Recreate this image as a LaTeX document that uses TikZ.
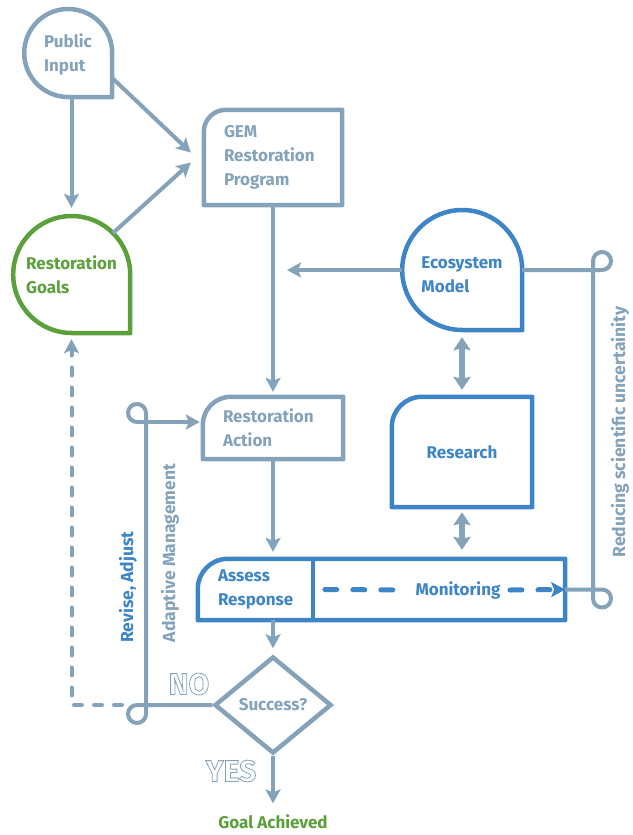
\documentclass[tikz,border=0pt]{standalone}
\usepackage{fontspec}
\setmainfont{Fira Sans}
\usepackage{tikz}
\usetikzlibrary{arrows.meta,calc,positioning,shapes.geometric}
\definecolor{steel}{HTML}{84A3BA}
\definecolor{ecoblue}{HTML}{3D85C6}
\definecolor{goalgreen}{HTML}{5BA03B}
% hollow letters for the NO / YES marks
\newcommand{\hollow}[1]{\special{pdf:literal direct 1 Tr 0.8 w}#1\special{pdf:literal direct 0 Tr}}

\begin{document}
\begin{tikzpicture}[x=1pt,y=1pt,>={Stealth[width=15pt,length=14pt,inset=3pt]},
  lbl/.style={font=\fontsize{17}{24}\selectfont\bfseries,align=left},
  drop/.style={circle,inner sep=0pt,lbl},
  card/.style={rectangle,inner sep=0pt,lbl},
  rim/.style={line width=4.5pt,line join=round},
  conn/.style={line width=4pt,steel},
  twohead/.style={line width=6pt,steel,{Stealth[width=17pt,length=13pt,inset=2pt]}-{Stealth[width=17pt,length=13pt,inset=2pt]}},
  side/.style={font=\fontsize{17.5}{20}\selectfont\bfseries,rotate=90},
  verdict/.style={font=\fontsize{30}{30}\selectfont\bfseries,steel}]
  \useasboundingbox (0,0) rectangle (632,-835);

  % shapes
  \node[drop,steel,minimum size=88pt] (pub) at (68,-53) {\rule{0pt}{17pt}Public\\Input};
  \node[drop,goalgreen,minimum size=117pt] (goals) at (71.5,-274.5) {Restoration\\Goals};
  \node[drop,ecoblue,minimum size=120pt] (eco) at (462,-270) {\rule{0pt}{22pt}Ecosystem\\Model};
  \node[card,steel,text width=98pt,inner xsep=20pt,minimum height=95pt] (gem) at (273,-157.5) {GEM\\Restoration\\Program};
  \node[card,steel,text width=100pt,inner xsep=20pt,minimum height=62pt] (action) at (273,-428) {Restoration\\Action};
  \node[card,ecoblue,align=center,minimum width=140pt,minimum height=110pt] (research) at (462,-452) {Research};
  \node[card,ecoblue,text width=80pt,inner xsep=20pt,minimum height=61pt] (assess) at (258,-589.5) {Assess\\Response};
  \node[card,minimum width=252pt,minimum height=61pt] (monitor) at (439,-589.5) {};
  \node[lbl,ecoblue] (montext) at (458,-590) {Monitoring};
  \node[diamond,draw=steel,line width=4.5pt,minimum width=117pt,minimum height=97pt,inner sep=0pt,lbl,text=steel] (success) at (273,-705) {Success?};
  \node[lbl,goalgreen] (done) at (273,-822) {Goal Achieved};

  \draw[rim,steel] (pub.east) arc[start angle=0,end angle=270,radius=44pt] -- (pub.south -| pub.east) -- cycle;
  \draw[rim,goalgreen] (goals.east) arc[start angle=0,end angle=270,radius=58.5pt] -- (goals.south -| goals.east) -- cycle;
  \draw[rim,ecoblue] (eco.east) arc[start angle=0,end angle=270,radius=60pt] -- (eco.south -| eco.east) -- cycle;
  \draw[rim,steel] (gem.south west) -- ([yshift=-22pt]gem.north west) arc[start angle=180,end angle=90,radius=22pt] -- (gem.north east) -- (gem.south east) -- cycle;
  \draw[rim,steel] (action.south west) -- ([yshift=-28pt]action.north west) arc[start angle=180,end angle=90,radius=28pt] -- (action.north east) -- (action.south east) -- cycle;
  \draw[rim,ecoblue] (research.south west) -- ([yshift=-30pt]research.north west) arc[start angle=180,end angle=90,radius=30pt] -- (research.north east) -- (research.south east) -- cycle;
  \draw[rim,ecoblue] (assess.south west) -- ([yshift=-30pt]assess.north west) arc[start angle=180,end angle=90,radius=30pt] -- (monitor.north east) -- (monitor.south east) -- cycle;
  \draw[rim,ecoblue] (monitor.north west) -- (monitor.south west);

  % loop corners
  \coordinate (ne) at (602,-261);
  \coordinate (se) at (602,-598.5);
  \coordinate (nw) at (137,-413);
  \coordinate (sw) at (137,-714);
  \coordinate (nwfoot) at (137,-422);

  % connectors
  \draw[conn,->,shorten >=8pt] (goals.north |- pub.south) -- (goals.north);
  \draw[conn,->] ([yshift=-25pt]pub.east) -- ([xshift=-13pt,yshift=5pt]gem.west);
  \draw[conn,->] (goals.45) -- ([xshift=-13pt,yshift=-5pt]gem.west);
  \draw[conn,->,shorten >=5pt] (gem.south) -- (action.north);
  \draw[conn,->,shorten >=14pt] (eco.west) -- (eco.west -| gem.south);
  \draw[conn] (eco.east) -- ($(ne)+(0,-9)$) arc[start angle=-90,end angle=180,radius=9pt]
    -- ($(se)+(-9,0)$) arc[start angle=180,end angle=450,radius=9pt] -- (monitor.east);
  \draw[twohead,shorten <=7pt,shorten >=7pt] (eco.south) -- (research.north);
  \draw[twohead,shorten <=5pt,shorten >=9pt] (research.south) -- (research.south |- monitor.north);
  \draw[conn,->,shorten >=7pt] (action.south) -- (action.south |- assess.north);
  \draw[conn,->,shorten >=6pt] (assess.south -| success.north) -- (success.north);
  \draw[conn,->,shorten >=8pt] (success.south) -- (done.north);
  \draw[conn] (success.west) -- ($(sw)+(0,9)$) arc[start angle=90,end angle=360,radius=9pt]
    -- ($(nw)+(9,0)$) arc[start angle=0,end angle=270,radius=9pt];
  \draw[conn,->,shorten >=3pt] (nwfoot) -- (nwfoot -| action.west);
  \draw[conn,line cap=round,dash pattern=on 8pt off 12pt,->,shorten >=6pt] ($(sw)+(-15,9)$) -- (goals.south |- success.west) -- (goals.south);
  \draw[line width=5pt,ecoblue,line cap=round,dash pattern=on 12pt off 16pt] ([xshift=12pt]monitor.west) -- ([xshift=-6pt]montext.west);
  \draw[line width=5pt,ecoblue,line cap=round,dash pattern=on 12pt off 16pt,->] ([xshift=6pt]montext.east) -- (monitor.east);

  % side labels
  \node[side,ecoblue] (revise) at (128,-587) {Revise, Adjust};
  \node[side,steel] (adaptive) at (170,-553) {Adaptive Management};
  \node[side,steel] (reduce) at (620,-432) {Reducing scientific uncertainity};
  \node[verdict] (no) at (189,-684) {\hollow{NO}};
  \node[verdict] (yes) at (231,-771) {\hollow{YES}};
\end{tikzpicture}
\end{document}
